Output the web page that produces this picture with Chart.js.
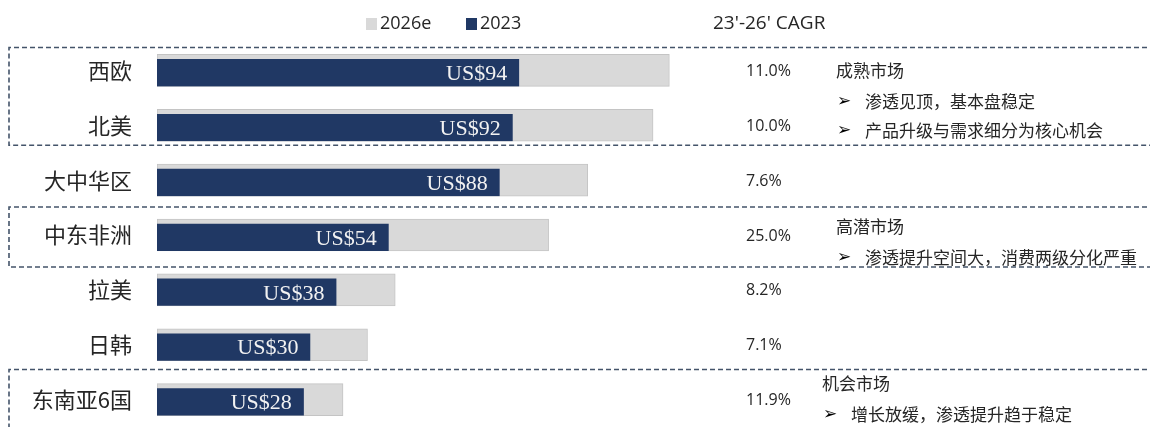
<!DOCTYPE html>
<html>
<head>
<meta charset="utf-8">
<script src="https://cdn.jsdelivr.net/npm/chart.js@4.4.1/dist/chart.umd.min.js"></script>
<style>
  html, body { margin: 0; background: #fff; }
  #wrap { width: 1150px; height: 427px; position: relative; }
</style>
</head>
<body>
<div id="wrap"><canvas id="myChart"></canvas></div>
<script>
// data
const categories = ['西欧', '北美', '大中华区', '中东非洲', '拉美', '日韩', '东南亚6国'];
const values2023 = [94, 92, 88, 54, 38, 30, 28];
const values2026e = [140, 135, 115, 103, 56, 47.5, 40];
const cagrLabels = ['11.0%', '10.0%', '7.6%', '25.0%', '8.2%', '7.1%', '11.9%'];
const seriesNames = ['2023', '2026e'];
const cagrTitle = "23'-26' CAGR";

const groupTitles = ['成熟市场', '高潜市场', '机会市场'];
const groupBullets = [
   ['渗透见顶，基本盘稳定', '产品升级与需求细分为核心机会'],
   ['渗透提升空间大，消费两级分化严重'],
   ['增长放缓，渗透提升趋于稳定'],
];
const groupRows = [[0, 1], [3, 3], [6, 6]];

const NAVY = '#203864';
const GRAY = '#d9d9d9';
const TEXT = '#262626';
const DASH = '#44546a';
const CJK = '"Noto Sans CJK SC", sans-serif';
const LATIN = '"Open Sans", sans-serif';

// layout for the side notes and boxes (pixels relative to row centres)
const noteLayout = [
   { x: 836, titleDy: 0, bulletDy: [31, 60] },
   { x: 836, titleDy: -8, bulletDy: [23] },
   { x: 822, titleDy: -16, bulletDy: [15] },
];
const boxLayout = [
   { top: -23, bottom: 20 },
   { top: -28, bottom: 32 },
   { top: -30, bottom: 60 },
];

const overlay = {
   id: 'overlay',
   afterDatasetsDraw(chart) {
      const { ctx, scales: { y } } = chart;
      const rowY = (i) => y.getPixelForValue(i);
      ctx.save();

      // value labels inside the 2023 bars
      const meta = chart.getDatasetMeta(0);
      ctx.font = '22px "Liberation Serif", serif';
      ctx.fillStyle = '#f2f2f2';
      ctx.textAlign = 'right';
      ctx.textBaseline = 'middle';
      meta.data.forEach((bar, i) => {
         ctx.fillText('US$' + values2023[i], bar.x - 12, bar.y + 4);
      });

      // CAGR column
      ctx.fillStyle = TEXT;
      ctx.textAlign = 'left';
      ctx.font = '16px ' + LATIN;
      cagrLabels.forEach((t, i) => ctx.fillText(t, 746, rowY(i) + 1));
      ctx.font = '19px ' + LATIN;
      ctx.fillText(cagrTitle, 713, 24);

      // legend
      ctx.font = '18px ' + LATIN;
      ctx.fillStyle = GRAY;
      ctx.fillRect(366, 18, 11, 12);
      ctx.fillStyle = NAVY;
      ctx.fillRect(466, 18, 11, 12);
      ctx.fillStyle = TEXT;
      ctx.fillText(seriesNames[1], 380, 24);
      ctx.fillText(seriesNames[0], 480, 24);

      // group notes
      groupTitles.forEach((title, g) => {
         const lay = noteLayout[g];
         const base = rowY(groupRows[g][0]);
         ctx.fillStyle = TEXT;
         ctx.font = '17px ' + CJK;
         ctx.fillText(title, lay.x, base + lay.titleDy);
         groupBullets[g].forEach((b, k) => {
            const by = base + lay.bulletDy[k];
            ctx.fillStyle = '#000';
            ctx.font = 'bold 17px "DejaVu Sans", sans-serif';
            ctx.fillText('➢', lay.x + 1, by);
            ctx.fillStyle = TEXT;
            ctx.font = '17px ' + CJK;
            ctx.fillText(b, lay.x + 29, by);
         });
      });

      // dashed boxes
      ctx.strokeStyle = DASH;
      ctx.lineWidth = 1.6;
      ctx.setLineDash([5, 3]);
      const right = chart.width + 5;
      groupRows.forEach((rows, g) => {
         const top = rowY(rows[0]) + boxLayout[g].top;
         const bottom = rowY(rows[1]) + boxLayout[g].bottom;
         ctx.beginPath();
         ctx.moveTo(right, top);
         ctx.lineTo(9, top);
         ctx.lineTo(9, bottom);
         ctx.lineTo(right, bottom);
         ctx.stroke();
      });

      ctx.restore();
   },
};

const ctx = document.getElementById('myChart').getContext('2d');
new Chart(ctx, {
   type: 'bar',
   data: {
      labels: categories,
      datasets: [
         {
            label: seriesNames[0],
            data: values2023,
            backgroundColor: NAVY,
            borderColor: 'rgba(0,0,0,0)',
            borderWidth: { top: 5, right: 0, bottom: 0, left: 0 },
            borderSkipped: false,
            barThickness: 32,
            grouped: false,
            base: -17,
         },
         {
            label: seriesNames[1],
            data: values2026e,
            backgroundColor: GRAY,
            borderColor: '#c4c4c4',
            borderWidth: 1,
            borderSkipped: false,
            barThickness: 32,
            grouped: false,
            base: -17,
         },
      ],
   },
   options: {
      indexAxis: 'y',
      responsive: true,
      maintainAspectRatio: false,
      animation: false,
      layout: { padding: { top: 43, right: 448, bottom: 0, left: 0 } },
      plugins: {
         legend: { display: false },
         tooltip: { enabled: false },
      },
      scales: {
         x: {
            display: false,
            min: -17,
            max: 150,
         },
         y: {
            grid: { display: false, drawTicks: false },
            border: { display: false },
            ticks: {
               padding: 25,
               color: TEXT,
               font: { family: 'Noto Sans CJK SC', size: 22 },
            },
            afterFit(scale) {
               scale.width = 157;
               scale.paddingTop = 0;
               scale.paddingBottom = 0;
            },
         },
      },
   },
   plugins: [overlay],
});
</script>
</body>
</html>
